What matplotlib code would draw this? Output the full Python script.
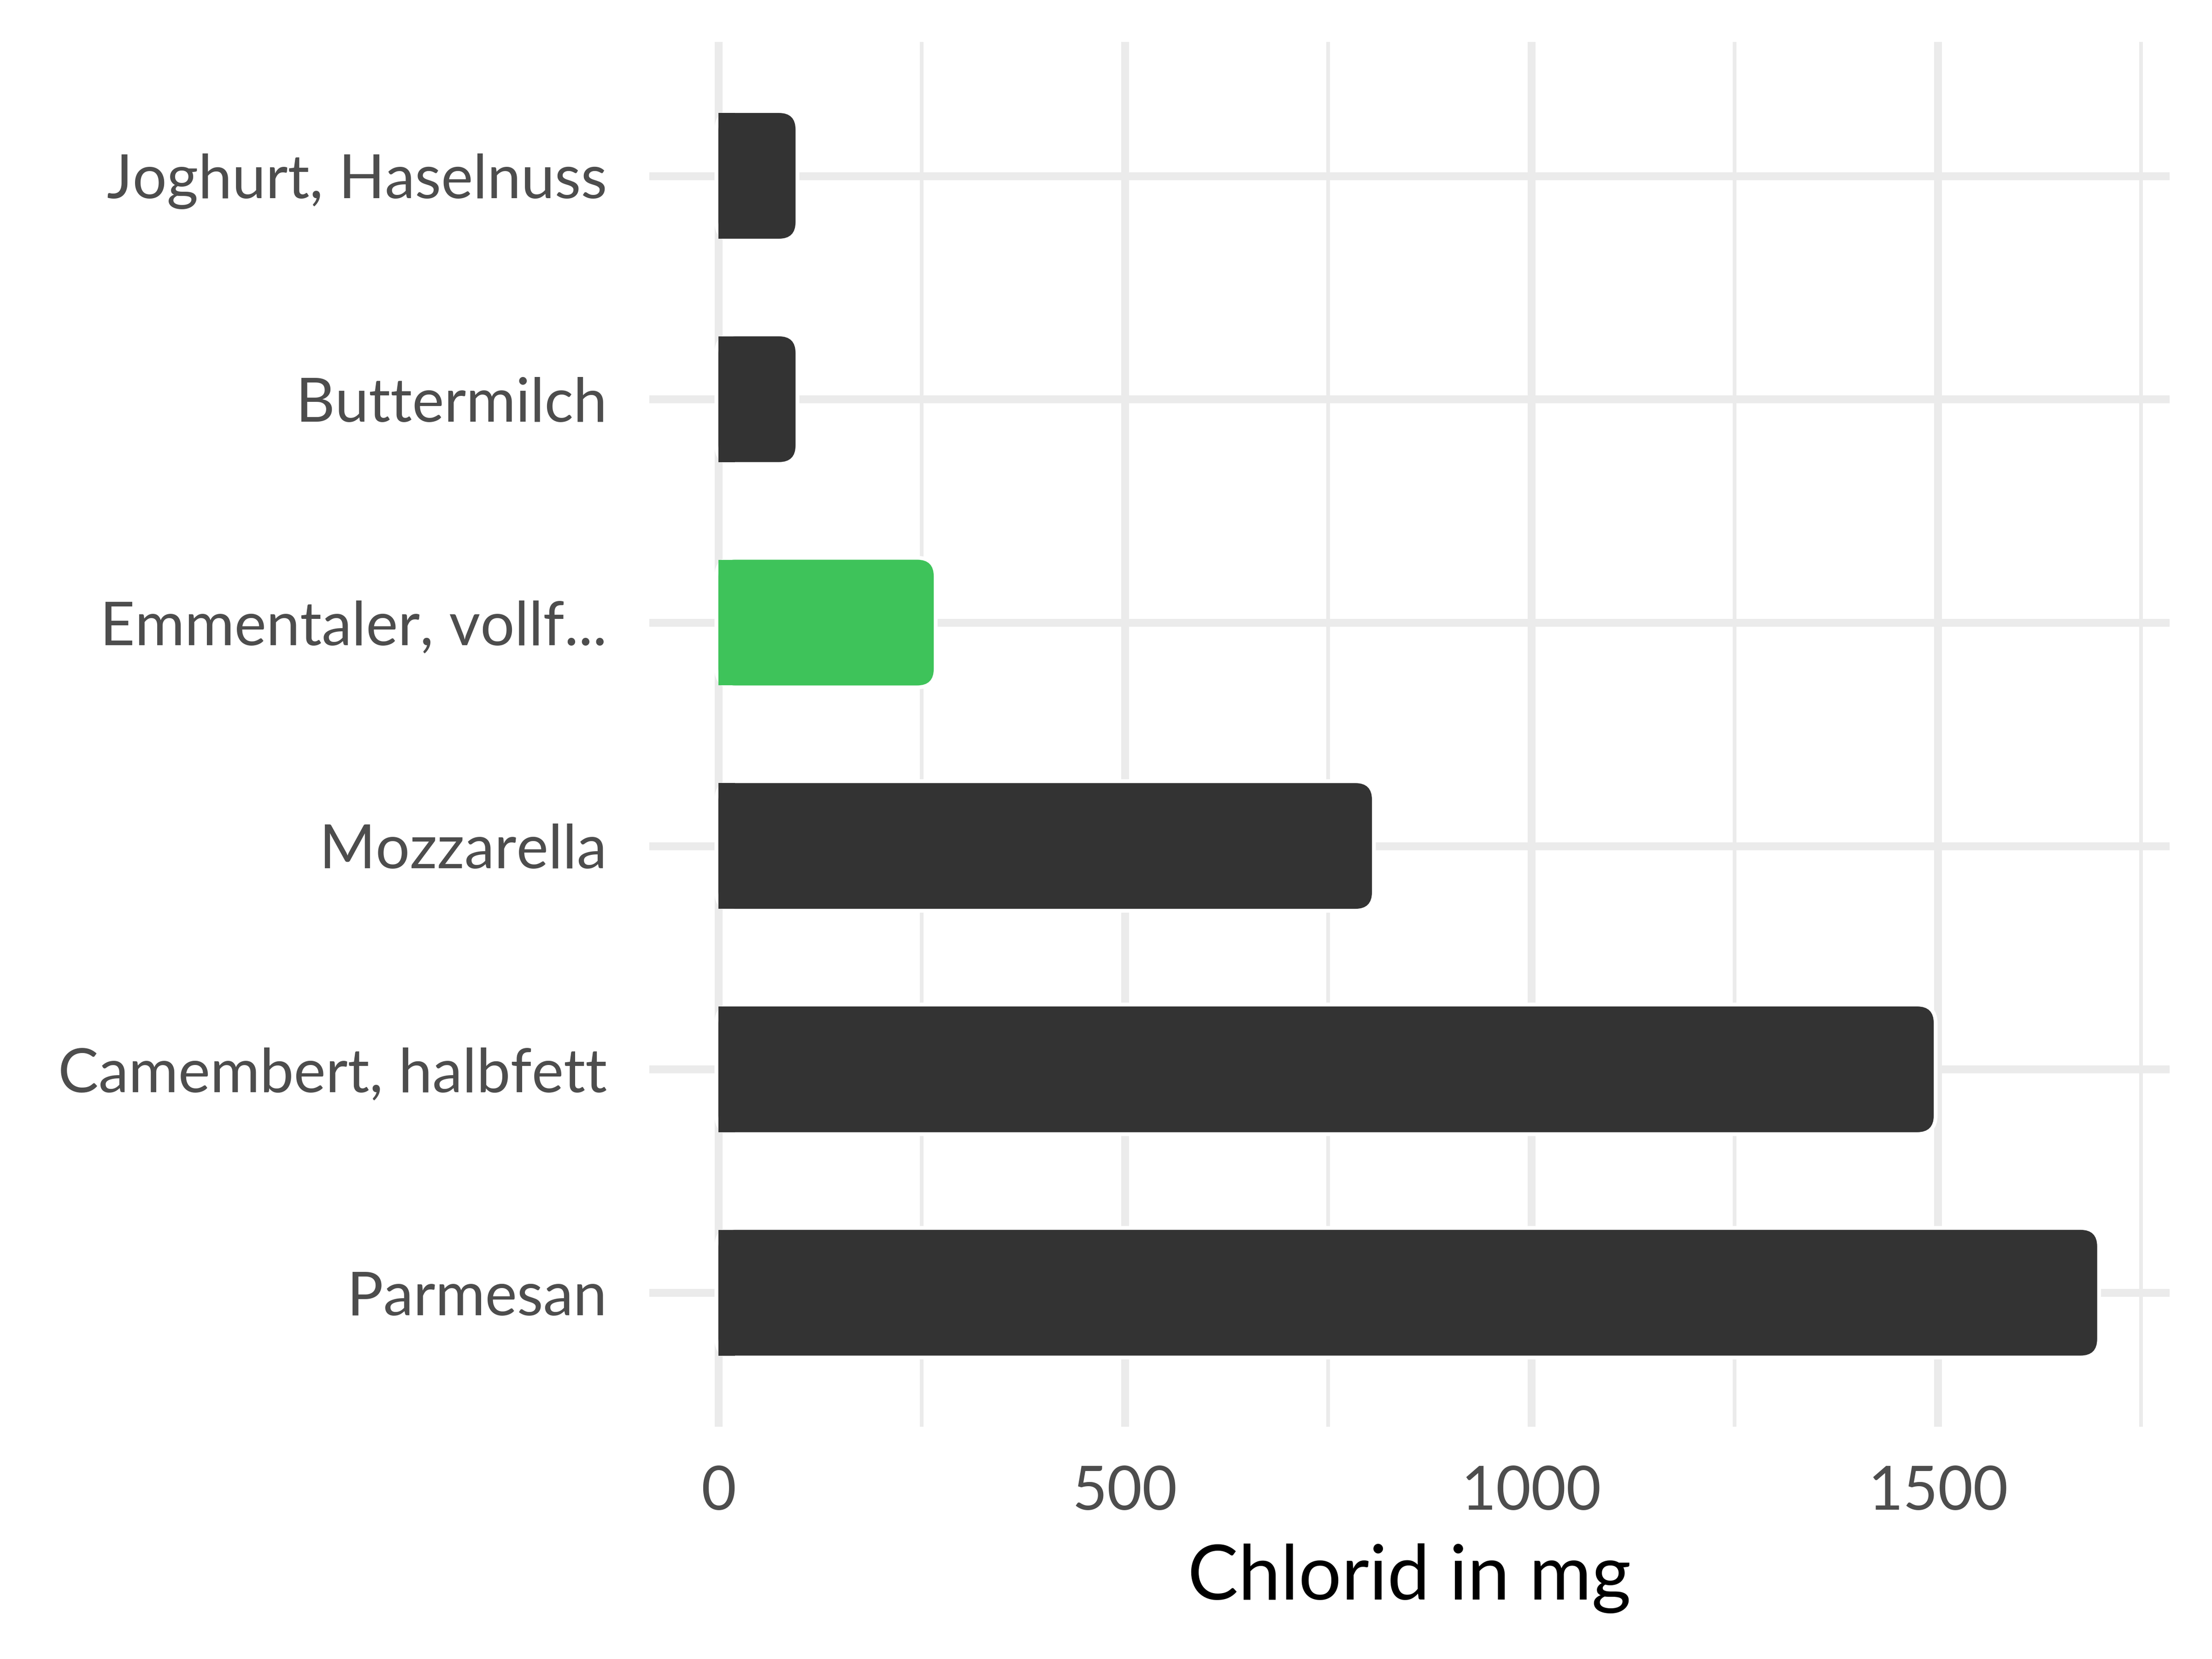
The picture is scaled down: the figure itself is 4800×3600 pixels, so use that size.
import matplotlib
matplotlib.use('Agg')
import matplotlib.pyplot as plt
from matplotlib.patches import FancyBboxPatch, Rectangle
from matplotlib.ticker import MultipleLocator

# data, bottom to top
categories = ['Parmesan', 'Camembert, halbfett', 'Mozzarella',
              'Emmentaler, vollf...', 'Buttermilch', 'Joghurt, Haselnuss']
values = [1696, 1495, 804, 265, 95, 95]
highlight = 'Emmentaler, vollf...'

DARK = '#333333'
GREEN = '#3EC35A'
GRID = '#EBEBEB'

plt.rcParams['font.family'] = ['Lato', 'DejaVu Sans']

W, H, DPI = 16, 12, 300
fig = plt.figure(figsize=(W, H), dpi=DPI)
ax_pos = [0.2935, 0.14, 0.6873, 0.8348]
ax = fig.add_axes(ax_pos)

xmin, xmax = -85, 1785
ymin, ymax = 0.4, len(categories) + 0.6
ax.set_xlim(xmin, xmax)
ax.set_ylim(ymin, ymax)

# grid
ax.xaxis.set_major_locator(MultipleLocator(500))
ax.xaxis.set_minor_locator(MultipleLocator(250))
ax.set_yticks(range(1, len(categories) + 1))
ax.set_yticklabels(categories)
ax.grid(which='major', axis='both', color=GRID, linewidth=4.1, zorder=0)
ax.grid(which='minor', axis='x', color=GRID, linewidth=1.9, zorder=0)
ax.set_axisbelow(True)
for s in ax.spines.values():
    s.set_visible(False)
ax.tick_params(which='both', length=0)
ax.tick_params(axis='y', pad=22, labelsize=31.5, labelcolor='#4D4D4D')
ax.tick_params(axis='x', pad=20, labelsize=31.5, labelcolor='#4D4D4D')

ax.set_xlabel('Chlorid in mg', fontsize=39.5, color='black', labelpad=12)

# rounded bars: corner radius in pixels -> data units
px_x = W * DPI * ax_pos[2] / (xmax - xmin)
px_y = H * DPI * ax_pos[3] / (ymax - ymin)
radius_px = 36
rx = radius_px / px_x
aspect = px_x / px_y
bar_h = 0.563

for i, (cat, v) in enumerate(zip(categories, values)):
    y = i + 1
    col = GREEN if cat == highlight else DARK
    halo = FancyBboxPatch((0, y - bar_h / 2), v, bar_h,
                          boxstyle=f'round,pad=0,rounding_size={rx}',
                          mutation_aspect=aspect, fc='white', ec='white',
                          lw=4, zorder=2)
    ax.add_patch(halo)
    bar = FancyBboxPatch((0, y - bar_h / 2), v, bar_h,
                         boxstyle=f'round,pad=0,rounding_size={rx}',
                         mutation_aspect=aspect, fc=col, ec='none', zorder=3)
    ax.add_patch(bar)
    # square off the left end
    ax.add_patch(Rectangle((0, y - bar_h / 2), min(rx, v), bar_h,
                           fc=col, ec='none', zorder=3))

fig.savefig('out.png', dpi=DPI, facecolor='white')
